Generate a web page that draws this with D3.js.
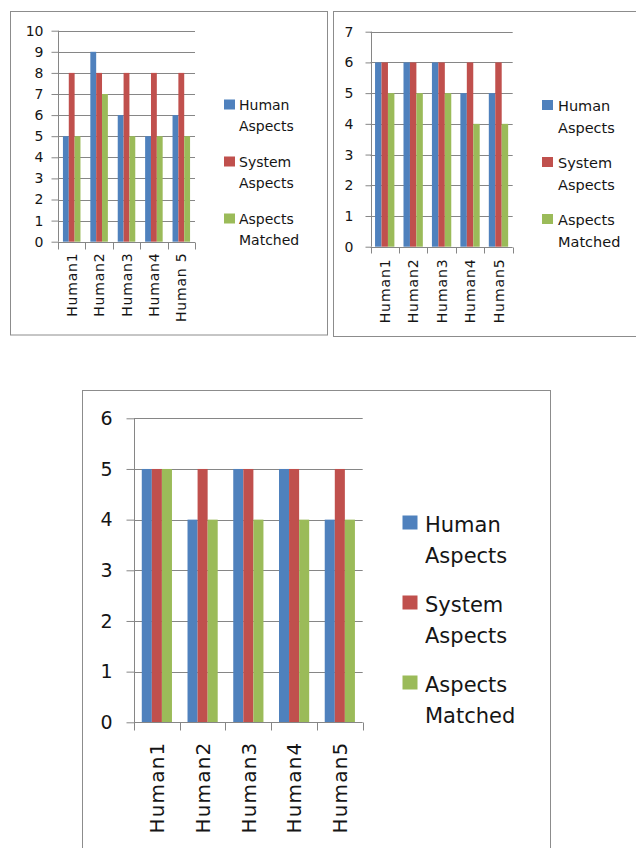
<!DOCTYPE html>
<html>
<head>
<meta charset="utf-8">
<script src="https://cdn.jsdelivr.net/npm/d3@7"></script>
<style>
  html, body { margin: 0; padding: 0; background: #fff; }
  svg { display: block; }
  text { font-family: "DejaVu Sans", Verdana, sans-serif; fill: #151515; }
</style>
</head>
<body>
<svg id="chart" width="636" height="848"></svg>
<script>
// Series names shared by all three charts
const seriesNames = [["Human", "Aspects"], ["System", "Aspects"], ["Aspects", "Matched"]];
const seriesColors = ["#4F81BD", "#C0504D", "#9BBB59"];

// Chart A (top left)
const categoriesA = ["Human1", "Human2", "Human3", "Human4", "Human 5"];
const humanA   = [5, 9, 6, 5, 6];
const systemA  = [8, 8, 8, 8, 8];
const matchedA = [5, 7, 5, 5, 5];
const yTicksA  = [0, 1, 2, 3, 4, 5, 6, 7, 8, 9, 10];

// Chart B (top right)
const categoriesB = ["Human1", "Human2", "Human3", "Human4", "Human5"];
const humanB   = [6, 6, 6, 5, 5];
const systemB  = [6, 6, 6, 6, 6];
const matchedB = [5, 5, 5, 4, 4];
const yTicksB  = [0, 1, 2, 3, 4, 5, 6, 7];

// Chart C (bottom)
const categoriesC = ["Human1", "Human2", "Human3", "Human4", "Human5"];
const humanC   = [5, 4, 5, 5, 4];
const systemC  = [5, 5, 5, 5, 5];
const matchedC = [5, 4, 4, 4, 4];
const yTicksC  = [0, 1, 2, 3, 4, 5, 6];

const svg = d3.select("#chart");
const gridColor = "#868686";

function drawChart(cfg) {
  const g = svg.append("g");

  // outer frame
  g.append("rect")
    .attr("x", cfg.frame[0]).attr("y", cfg.frame[1])
    .attr("width", cfg.frame[2]).attr("height", cfg.frame[3])
    .attr("fill", "#fff").attr("stroke", "#8c8c8c").attr("stroke-width", 1);

  const yMax = cfg.yTicks[cfg.yTicks.length - 1];
  const y = d3.scaleLinear().domain([0, yMax]).range([cfg.plot.bottom, cfg.plot.top]);
  const x0 = d3.scaleBand().domain(cfg.categories)
    .range([cfg.plot.left, cfg.plot.right])
    .paddingInner(cfg.gap).paddingOuter(cfg.gap / 2);
  const keys = [0, 1, 2];
  const x1 = d3.scaleBand().domain(keys).range([0, x0.bandwidth()]);

  // horizontal gridlines
  g.append("g").selectAll("line").data(cfg.yTicks.filter(d => d > 0)).join("line")
    .attr("x1", cfg.plot.left).attr("x2", cfg.plot.right)
    .attr("y1", d => Math.round(y(d)) + 0.5).attr("y2", d => Math.round(y(d)) + 0.5)
    .attr("stroke", gridColor).attr("stroke-width", 1);

  // bars
  const groups = g.append("g").selectAll("g").data(cfg.categories).join("g")
    .attr("transform", d => `translate(${x0(d)},0)`);
  groups.selectAll("rect")
    .data((d, i) => keys.map(k => ({ k, v: cfg.series[k][i] })))
    .join("rect")
    .attr("x", d => x1(d.k))
    .attr("width", x1.bandwidth())
    .attr("y", d => y(d.v))
    .attr("height", d => y(0) - y(d.v))
    .attr("fill", d => seriesColors[d.k]);

  // y axis
  const yAxis = d3.axisLeft(y).tickValues(cfg.yTicks).tickSize(cfg.tick).tickPadding(cfg.yPad)
    .tickFormat(d3.format("d"));
  const ya = g.append("g").attr("transform", `translate(${Math.round(cfg.plot.left) + 0.5},0)`).call(yAxis);
  ya.select(".domain").attr("stroke", gridColor).attr("d", `M0,${y(yMax)}V${y(0)}`);
  ya.selectAll(".tick line").attr("stroke", gridColor);
  ya.selectAll(".tick text").style("font-size", cfg.yFont + "px").attr("fill", "#151515")
    .style("font-family", '"DejaVu Sans", sans-serif');

  // x axis: tick marks at category boundaries
  const xa = g.append("g").attr("transform", `translate(0,${Math.round(y(0)) + 0.5})`);
  xa.append("line").attr("x1", cfg.plot.left).attr("x2", cfg.plot.right)
    .attr("stroke", gridColor);
  const bounds = cfg.categories.map(c => x0(c) - x0.step() * cfg.gap / 2)
    .concat([cfg.plot.right]);
  xa.selectAll("line.tk").data(bounds).join("line").attr("class", "tk")
    .attr("x1", d => Math.round(d) + 0.5).attr("x2", d => Math.round(d) + 0.5)
    .attr("y1", 0).attr("y2", cfg.tick).attr("stroke", gridColor);
  xa.selectAll("text").data(cfg.categories).join("text")
    .attr("transform", d => `translate(${x0(d) + x0.bandwidth() / 2},${cfg.xPad}) rotate(-90)`)
    .attr("text-anchor", "end").attr("dy", "0.36em")
    .style("font-size", cfg.xFont + "px")
    .style("letter-spacing", cfg.xSpacing + "px")
    .text(d => d);

  // legend
  const lg = g.append("g");
  seriesNames.forEach((lines, i) => {
    const top = cfg.legend.y + i * cfg.legend.step;
    lg.append("rect").attr("x", cfg.legend.x).attr("y", top)
      .attr("width", cfg.legend.sw).attr("height", cfg.legend.sh)
      .attr("fill", seriesColors[i]);
    const t = lg.append("text").attr("x", cfg.legend.tx).attr("y", top + cfg.legend.base)
      .style("font-size", cfg.legend.font + "px");
    lines.forEach((ln, j) => {
      t.append("tspan").attr("x", cfg.legend.tx)
        .attr("dy", j === 0 ? 0 : cfg.legend.line).text(ln);
    });
  });
}

drawChart({
  frame: [10.5, 11.5, 317, 323.5],
  plot: { left: 58, right: 195, top: 30.7, bottom: 241.7 },
  categories: categoriesA, series: [humanA, systemA, matchedA], yTicks: yTicksA,
  gap: 0.36, tick: 7, yPad: 8, yFont: 14, xFont: 14, xSpacing: 0.8, xPad: 10,
  legend: { x: 224, y: 99.5, sw: 11, sh: 10, tx: 239, base: 10.5, line: 21, step: 57, font: 14 }
});

drawChart({
  frame: [333.5, 11.5, 320, 325],
  plot: { left: 370.5, right: 512.7, top: 31.7, bottom: 246.7 },
  categories: categoriesB, series: [humanB, systemB, matchedB], yTicks: yTicksB,
  gap: 0.32, tick: 6, yPad: 12, yFont: 14, xFont: 14, xSpacing: 0.9, xPad: 11,
  legend: { x: 542, y: 100, sw: 11, sh: 10, tx: 558, base: 11, line: 22, step: 57, font: 14.5 }
});

drawChart({
  frame: [82.5, 390.5, 468, 500],
  plot: { left: 134, right: 362.7, top: 418.3, bottom: 722.3 },
  categories: categoriesC, series: [humanC, systemC, matchedC], yTicks: yTicksC,
  gap: 0.34, tick: 8, yPad: 14, yFont: 19, xFont: 20, xSpacing: 1.2, xPad: 19,
  legend: { x: 402.5, y: 515.5, sw: 15, sh: 14, tx: 425, base: 16, line: 31, step: 80, font: 21 }
});
</script>
</body>
</html>
